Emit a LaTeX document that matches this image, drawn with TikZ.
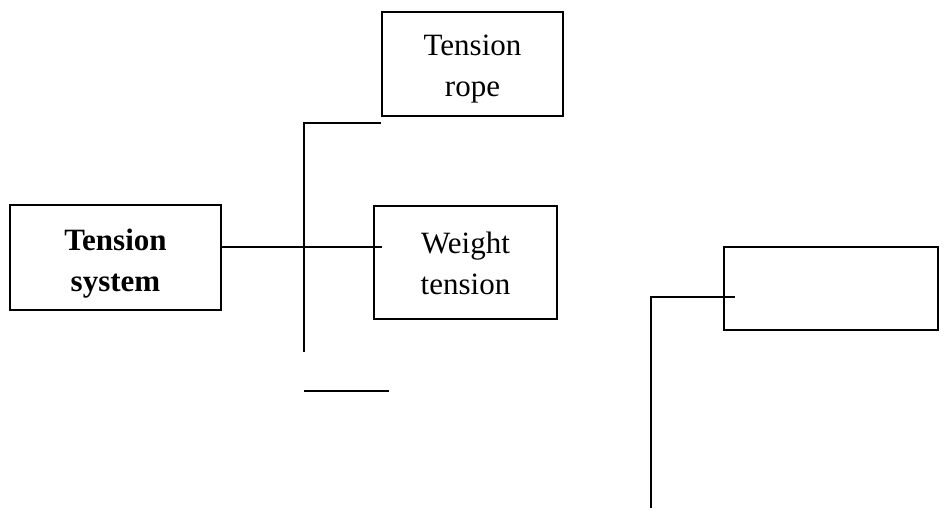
\documentclass[tikz,border=0pt]{standalone}
\usepackage{fontspec}
\setmainfont{Liberation Serif}
\begin{document}
\begin{tikzpicture}[x=1pt,y=-1pt,
  box/.style={draw, line width=1.8pt, inner sep=0pt},
  txt/.style={inner sep=0pt, align=center, font=\fontsize{31}{41}\selectfont},
  wire/.style={line width=1.8pt}]
\useasboundingbox (0,0) rectangle (951,514);
\node[box, minimum width=211, minimum height=105] (sys) at (115.5,257.5) {};
\node[box, minimum width=181, minimum height=104] (rope) at (472.5,64) {};
\node[box, minimum width=183, minimum height=113] (weight) at (465.5,262.5) {};
\node[box, minimum width=214, minimum height=83] (empty) at (831,288.5) {};
\node[txt] (systxt) at ([yshift=-6pt]sys.center) {\textbf{Tension}\\\textbf{system}};
\node[txt] (ropetxt) at ([yshift=-5pt]rope.center) {Tension\\rope};
\node[txt] (weighttxt) at ([yshift=-1pt]weight.center) {Weight\\tension};
\coordinate (h1) at (382,247);
\coordinate (vtop) at (304,123);
\coordinate (vbot) at (304,352);
\coordinate (ttop) at (381,123);
\coordinate (sa) at (304,391);
\coordinate (sb) at (389,391);
\coordinate (ra) at (651,508);
\coordinate (rb) at (651,297);
\coordinate (rc) at (735,297);
\draw[wire] (sys.east |- h1) -- (h1);
\draw[wire] (ttop) -- (vtop) -- (vbot);
\draw[wire] (sa) -- (sb);
\draw[wire] (ra) -- (rb) -- (rc);
\end{tikzpicture}
\end{document}
